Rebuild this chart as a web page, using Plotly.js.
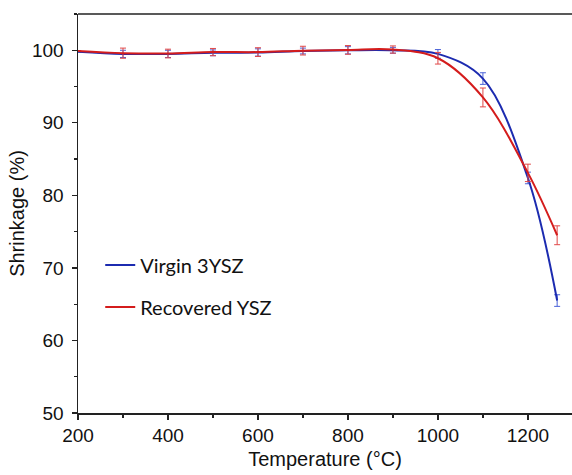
<!DOCTYPE html>
<html><head><meta charset="utf-8">
<script src="https://cdn.plot.ly/plotly-3.0.1.min.js"></script>
<style>html,body{margin:0;padding:0;background:#fff}#chart{width:572px;height:475px}</style>
</head><body><div id="chart"></div>
<script>
const temperature = [200, 300, 400, 500, 600, 700, 800, 900, 1000, 1100, 1200, 1265];
const virginShrinkage = [99.8, 99.5, 99.5, 99.65, 99.7, 99.9, 100.0, 100.0, 99.5, 96.1, 82.4, 65.5];
const virginError = [0, 0.5, 0.5, 0.4, 0.5, 0.4, 0.5, 0.4, 0.6, 0.8, 0.8, 0.8];
const recoveredShrinkage = [99.9, 99.6, 99.55, 99.75, 99.75, 99.95, 100.05, 100.1, 98.9, 93.5, 83.1, 74.5];
const recoveredError = [0, 0.7, 0.6, 0.5, 0.6, 0.6, 0.6, 0.5, 0.8, 1.3, 1.2, 1.3];
const seriesNames = ['Virgin 3YSZ', 'Recovered YSZ'];

const traces = [
  {x: temperature, y: virginShrinkage, name: seriesNames[0], type: 'scatter', mode: 'lines',
   legendgroup: 'a',
   line: {color: '#1c2bb0', width: 2, shape: 'spline', smoothing: 1},
   error_y: {type: 'data', array: virginError, visible: true, color: '#4a62d8', thickness: 1, width: 3}},
  {x: temperature, y: recoveredShrinkage, name: seriesNames[1], type: 'scatter', mode: 'lines',
   legendgroup: 'b',
   line: {color: '#d41c1c', width: 2, shape: 'spline', smoothing: 1},
   error_y: {type: 'data', array: recoveredError, visible: true, color: '#e04848', thickness: 1, width: 3}}
];

const tickFont = {family: "'Liberation Sans', Arial, Helvetica", size: 19, color: '#111'};
const titleFont = {family: "'Liberation Sans', Arial, Helvetica", size: 20, color: '#111'};
const layout = {
  width: 572, height: 475,
  margin: {l: 78, r: 0, t: 14, b: 62},
  paper_bgcolor: '#fff', plot_bgcolor: '#fff',
  showlegend: true,
  legend: {x: 0.045, y: 0.42, xanchor: 'left', yanchor: 'top', bgcolor: 'rgba(0,0,0,0)',
           font: {family: "Lato, Carlito, Calibri", size: 20, color: '#111'},
           traceorder: 'grouped', tracegroupgap: 13},
  xaxis: {range: [200, 1298], tickvals: [200, 400, 600, 800, 1000, 1200],
          showgrid: false, zeroline: false, showline: true, linecolor: '#222', linewidth: 1.5,
          ticks: 'outside', ticklen: 5, tickwidth: 1.2, tickcolor: '#222',
          minor: {dtick: 100, tick0: 200, ticks: 'outside', ticklen: 3, tickwidth: 1.2, tickcolor: '#222'},
          tickfont: tickFont,
          title: {text: 'Temperature (°C)', font: titleFont, standoff: 6}},
  yaxis: {range: [50, 105], tickvals: [50, 60, 70, 80, 90, 100],
          showgrid: false, zeroline: false, showline: true, linecolor: '#222', linewidth: 1.5,
          ticks: 'outside', ticklen: 5, tickwidth: 1.2, tickcolor: '#222', ticklabelstandoff: 4,
          minor: {dtick: 5, tick0: 50, ticks: 'outside', ticklen: 3, tickwidth: 1.2, tickcolor: '#222'},
          tickfont: tickFont,
          title: {text: 'Shrinkage (%)', font: titleFont, standoff: 2}},
  shapes: [{type: 'line', xref: 'paper', yref: 'paper', x0: 0, x1: 1, y0: 1, y1: 1,
            line: {color: '#222', width: 1.5}}]
};
Plotly.newPlot('chart', traces, layout, {displayModeBar: false, staticPlot: true});
</script></body></html>
